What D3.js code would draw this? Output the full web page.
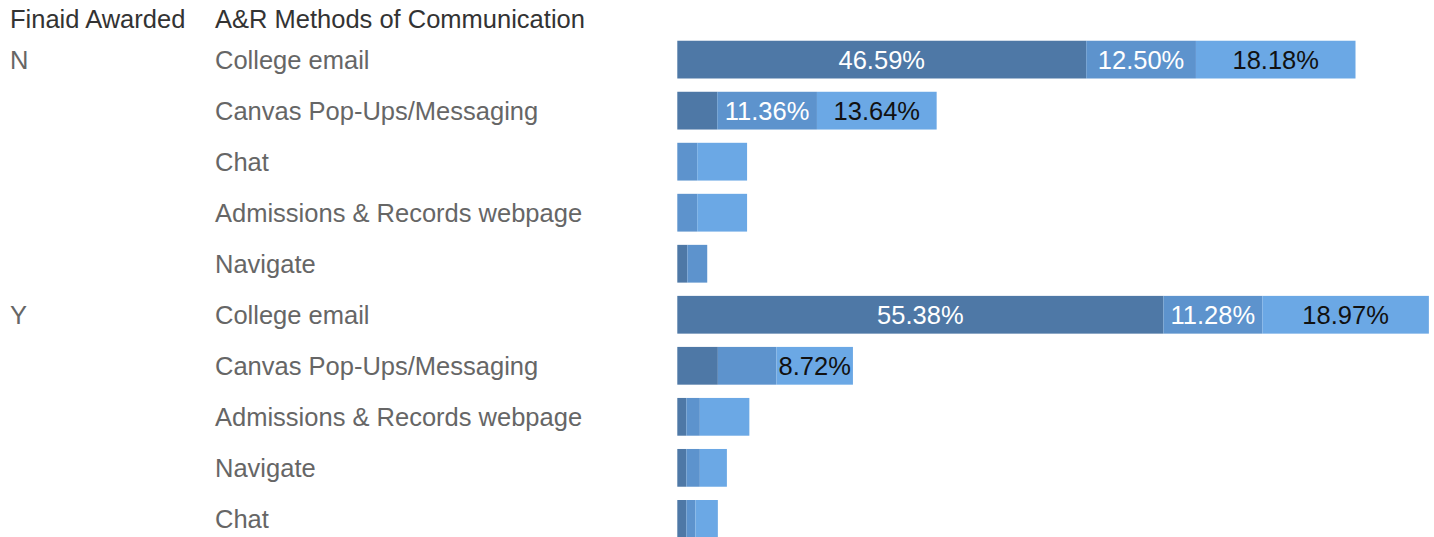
<!DOCTYPE html>
<html>
<head>
<meta charset="utf-8">
<script src="https://cdn.jsdelivr.net/npm/d3@7"></script>
<style>
  body { margin: 0; background: #fff; }
  text { font-family: "Liberation Sans", Arial, sans-serif; }
</style>
</head>
<body>
<script>
// rows, top to bottom
var groups   = ["N", "N", "N", "N", "N", "Y", "Y", "Y", "Y", "Y"];
var methods  = ["College email", "Canvas Pop-Ups/Messaging", "Chat", "Admissions & Records webpage", "Navigate",
                "College email", "Canvas Pop-Ups/Messaging", "Admissions & Records webpage", "Navigate", "Chat"];
// three stacked segments (percent of group)
var seg1 = [46.59, 4.55, 0,    0,    1.14, 55.38, 4.62, 1.03, 1.03, 1.03];
var seg2 = [12.50, 11.36, 2.27, 2.27, 2.27, 11.28, 6.67, 1.54, 1.54, 1.03];
var seg3 = [18.18, 13.64, 5.68, 5.68, 0,    18.97, 8.72, 5.64, 3.08, 2.56];
var segColors = ["#4e78a6", "#5d93cd", "#6ba8e5"];
var labelColors = ["#ffffff", "#ffffff", "#111111"];

var W = 1434, H = 537;
var fs = "25.5px";
var svg = d3.select("body").append("svg").attr("width", W).attr("height", H);

var rows = d3.range(methods.length);
var y = d3.scaleBand().domain(rows).range([34.1, 544.4]).paddingInner(0.26).paddingOuter(0.13);
var x = d3.scaleLinear().domain([0, 100]).range([677.3, 1555]);

var data = rows.map(function(i){ return {row: i, a: seg1[i], b: seg2[i], c: seg3[i]}; });
var stack = d3.stack().keys(["a", "b", "c"]);
var series = stack(data);

// headers
svg.append("text").attr("x", 10).attr("y", 19).attr("dy", "0.35em")
  .style("font-size", fs).style("fill", "#333").text("Finaid Awarded");
svg.append("text").attr("x", 215).attr("y", 19).attr("dy", "0.35em")
  .style("font-size", fs).style("fill", "#333").text("A&R Methods of Communication");

// row labels
svg.append("g").selectAll("text").data(rows).enter().append("text")
  .attr("x", 215)
  .attr("y", function(i){ return y(i) + y.bandwidth()/2 + 0.5; })
  .attr("dy", "0.35em")
  .style("font-size", fs).style("fill", "#666")
  .text(function(i){ return methods[i]; });

// group labels (first row of each group)
svg.append("g").selectAll("text")
  .data(rows.filter(function(i){ return i == 0 || groups[i] != groups[i-1]; }))
  .enter().append("text")
  .attr("x", 10)
  .attr("y", function(i){ return y(i) + y.bandwidth()/2; })
  .attr("dy", "0.35em")
  .style("font-size", fs).style("fill", "#666")
  .text(function(i){ return groups[i]; });

// bars
var layer = svg.append("g").selectAll("g").data(series).enter().append("g")
  .style("fill", function(d, k){ return segColors[k]; });

layer.selectAll("rect").data(function(d){ return d; }).enter().append("rect")
  .attr("x", function(d){ return x(d[0]); })
  .attr("y", function(d){ return y(d.data.row); })
  .attr("width", function(d){ return x(d[1]) - x(d[0]); })
  .attr("height", y.bandwidth());

// labels, only when they fit inside the segment
series.forEach(function(s, k){
  s.forEach(function(d){
    var v = d[1] - d[0];
    if (v <= 0) return;
    var w = x(d[1]) - x(d[0]);
    var t = svg.append("text")
      .attr("x", (x(d[0]) + x(d[1]))/2)
      .attr("y", y(d.data.row) + y.bandwidth()/2)
      .attr("dy", "0.35em")
      .attr("text-anchor", "middle")
      .style("font-size", fs)
      .style("fill", labelColors[k])
      .text(v.toFixed(2) + "%");
    if (t.node().getComputedTextLength() > w - 2) t.remove();
  });
});
</script>
</body>
</html>
